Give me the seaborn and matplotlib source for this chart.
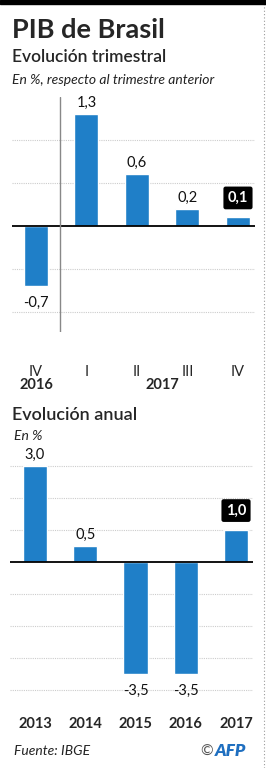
import matplotlib
matplotlib.use("Agg")
import matplotlib.pyplot as plt
import seaborn as sns
from matplotlib.patches import Rectangle
from matplotlib.lines import Line2D

# Datos
trimestres = ["IV-2016", "I-2017", "II-2017", "III-2017", "IV-2017"]
trim_etiquetas = ["IV", "I", "II", "III", "IV"]
pib_trimestral = [-0.7, 1.3, 0.6, 0.2, 0.1]

anios = ["2013", "2014", "2015", "2016", "2017"]
pib_anual = [3.0, 0.5, -3.5, -3.5, 1.0]

azul = "#1f7fc8"
sns.set_style("white")
plt.rcParams["font.family"] = ["Lato", "DejaVu Sans"]

fig = plt.figure(figsize=(2.66, 7.68), dpi=100)
W, H = 266, 768


def fmt(v):
    return f"{v:.1f}".replace(".", ",")


def etiquetas(ax, valores, resaltar):
    for i, v in enumerate(valores):
        if i == resaltar:
            ax.annotate(fmt(v), (i, v), xytext=(0, 14), textcoords="offset points",
                        ha="center", va="center", color="white", fontsize=10.5,
                        fontweight="bold",
                        bbox=dict(boxstyle="round,pad=0.3,rounding_size=0.15",
                                  fc="black", ec="none"))
        elif v >= 0:
            ax.annotate(fmt(v), (i, v), xytext=(0, 8), textcoords="offset points",
                        ha="center", va="center", fontsize=10.5, color="#111111")
        else:
            ax.annotate(fmt(v), (i, v), xytext=(0, -12), textcoords="offset points",
                        ha="center", va="center", fontsize=10.5, color="#111111")


# --- Gráfico trimestral ---
ax1 = fig.add_axes([12 / W, 1 - 332 / H, 243 / W, 235 / H])
sns.barplot(x=trimestres, y=pib_trimestral, color=azul, width=0.475,
            saturation=1, ax=ax1)
ax1.set_xlim(-0.475, 4.337)
ax1.set_ylim(-1.233, 1.5)
for g in [1.0, 0.5, -0.5, -1.0]:
    ax1.axhline(g, color="#cccccc", lw=0.8, ls=(0, (1, 1)), zorder=0)
ax1.axhline(0, color="black", lw=1.3, zorder=3)
ax1.axvline(0.475, color="#888888", lw=1, zorder=3)
ax1.set_xticks(range(5))
ax1.set_xticklabels(trim_etiquetas, fontsize=10.5)
ax1.tick_params(axis="x", length=0, pad=24)
ax1.set_yticks([])
ax1.set_xlabel("")
sns.despine(ax=ax1, left=True, bottom=True)
etiquetas(ax1, pib_trimestral, 4)
ax1.text(0, -53 / 235, "2016", transform=ax1.get_xaxis_transform(), ha="center",
         va="center", fontsize=10.5, fontweight="bold")
ax1.text(2.5, -53 / 235, "2017", transform=ax1.get_xaxis_transform(), ha="center",
         va="center", fontsize=10.5, fontweight="bold")

# --- Gráfico anual ---
ax2 = fig.add_axes([10 / W, 1 - 700 / H, 243 / W, 260 / H])
sns.barplot(x=anios, y=pib_anual, color=azul, width=0.478, saturation=1, ax=ax2)
ax2.set_xlim(-0.4975, 4.338)
ax2.set_ylim(-4.3125, 3.8125)
for g in [3, 2, 1, -1, -2, -3, -4]:
    ax2.axhline(g, color="#cccccc", lw=0.8, ls=(0, (1, 1)), zorder=0)
ax2.axhline(0, color="black", lw=1.3, zorder=3)
ax2.tick_params(axis="x", length=0, pad=12, labelsize=10.5)
for t in ax2.get_xticklabels():
    t.set_fontweight("bold")
ax2.set_yticks([])
ax2.set_xlabel("")
sns.despine(ax=ax2, left=True, bottom=True)
etiquetas(ax2, pib_anual, 4)

# --- Textos ---
fig.text(12 / W, 1 - 30 / H, "PIB de Brasil", fontsize=19.5, fontweight="bold",
         va="center", ha="left")
fig.text(12 / W, 1 - 57 / H, "Evolución trimestral", fontsize=12.5,
         fontweight="semibold", va="center", ha="left")
fig.text(12 / W, 1 - 80 / H, "En %, respecto al trimestre anterior", fontsize=10,
         style="italic", va="center", ha="left", color="#222222")
fig.text(12 / W, 1 - 415 / H, "Evolución anual", fontsize=13,
         fontweight="semibold", va="center", ha="left")
fig.text(14 / W, 1 - 436 / H, "En %", fontsize=10, style="italic",
         va="center", ha="left", color="#222222")
fig.text(14 / W, 1 - 751 / H, "Fuente: IBGE", fontsize=10, style="italic",
         va="center", ha="left", color="#222222")
fig.text(213 / W, 1 - 752 / H, "©", fontsize=11, va="center", ha="right",
         color="#555555")
fig.text(215 / W, 1 - 751 / H, "AFP", fontsize=12.5, fontweight="heavy",
         style="italic", va="center", ha="left", color="#1f6fc0")

# banda superior y borde derecho punteado
fig.patches.append(Rectangle((0, 1 - 4 / H), 1, 4 / H, transform=fig.transFigure,
                             color="black", zorder=5))
fig.lines.append(Line2D([264 / W, 264 / W], [0, 1 - 4 / H], transform=fig.transFigure,
                        color="#999999", lw=0.8, ls=(0, (1, 2))))

fig.savefig("out.png", dpi=100)
